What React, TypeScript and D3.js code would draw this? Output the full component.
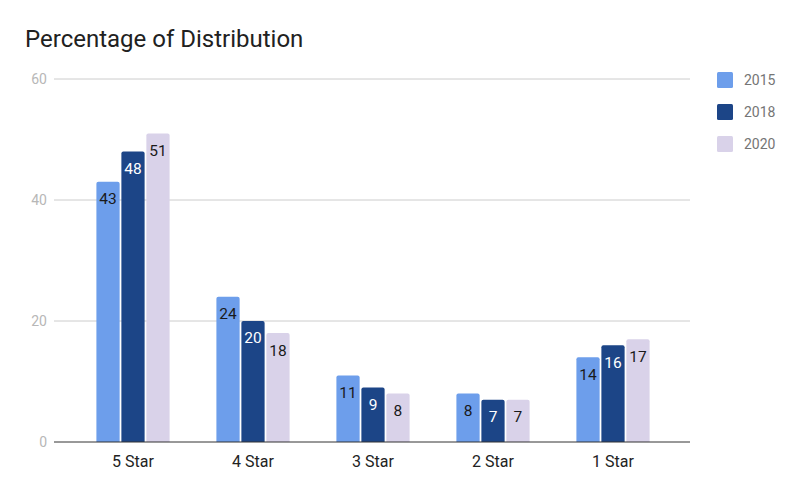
import React from "react";
import * as d3 from "d3";

const categories = ["5 Star", "4 Star", "3 Star", "2 Star", "1 Star"];
const seriesNames = ["2015", "2018", "2020"];
const values2015 = [43, 24, 11, 8, 14];
const values2018 = [48, 20, 9, 7, 16];
const values2020 = [51, 18, 8, 7, 17];
const yTicks = [0, 20, 40, 60];

const colors = ["#6d9eeb", "#1c4587", "#d9d2e9"];
const labelColors = ["#1a1a1a", "#ffffff", "#1a1a1a"];

const W = 800;
const H = 495;
const gridLeft = 54;
const gridRight = 690;

export default function App() {
  const series = [values2015, values2018, values2020];
  const y = d3.scaleLinear().domain([0, 60]).range([442, 79]);
  const x0 = d3.scaleBand<string>().domain(categories).range([73, 673]).paddingInner(0.39).paddingOuter(0.195);
  const x1 = d3.scaleBand<string>().domain(seriesNames).range([0, x0.bandwidth()]).paddingInner(0.07);
  const font = "Roboto, sans-serif";
  const r = 2;
  const barPath = (x: number, w: number, top: number, bottom: number) =>
    `M${x},${bottom}V${top + r}Q${x},${top} ${x + r},${top}H${x + w - r}Q${x + w},${top} ${x + w},${top + r}V${bottom}Z`;

  return (
    <svg width={W} height={H} style={{ position: "absolute", left: 0, top: 0 }}>
      <rect width={W} height={H} fill="#fff" />
      <text x={25} y={47} fontFamily={font} fontSize={24} fill="#212121">
        Percentage of Distribution
      </text>
      {yTicks.map((t) => (
        <g key={t}>
          {t !== 0 && (
            <line x1={gridLeft} x2={gridRight} y1={y(t)} y2={y(t)} stroke="#cccccc" strokeWidth={1} />
          )}
          <text x={47} y={y(t)} dy="0.35em" textAnchor="end" fontFamily={font} fontSize={14} fill="#b7b7b7">
            {t}
          </text>
        </g>
      ))}
      {categories.map((c, i) => (
        <g key={c}>
          {series.map((vals, s) => {
            const bx = (x0(c) as number) + (x1(seriesNames[s]) as number);
            const bw = x1.bandwidth();
            const top = y(vals[i]);
            return (
              <g key={s}>
                <path d={barPath(bx, bw, top, y(0))} fill={colors[s]} />
                <text
                  x={bx + bw / 2}
                  y={top + 17}
                  dy="0.35em"
                  textAnchor="middle"
                  fontFamily={font}
                  fontSize={15.5}
                  fill={labelColors[s]}
                >
                  {vals[i]}
                </text>
              </g>
            );
          })}
          <text
            x={(x0(c) as number) + x0.bandwidth() / 2}
            y={461}
            dy="0.35em"
            textAnchor="middle"
            fontFamily={font}
            fontSize={16}
            fill="#222222"
          >
            {c}
          </text>
        </g>
      ))}
      <line x1={gridLeft} x2={gridRight} y1={y(0)} y2={y(0)} stroke="#333333" strokeWidth={1} />
      {seriesNames.map((n, s) => (
        <g key={n} transform={`translate(717, ${72 + s * 32})`}>
          <rect width={16} height={16} rx={1.5} fill={colors[s]} />
          <text x={27} y={8} dy="0.35em" fontFamily={font} fontSize={14} fill="#757575">
            {n}
          </text>
        </g>
      ))}
    </svg>
  );
}
